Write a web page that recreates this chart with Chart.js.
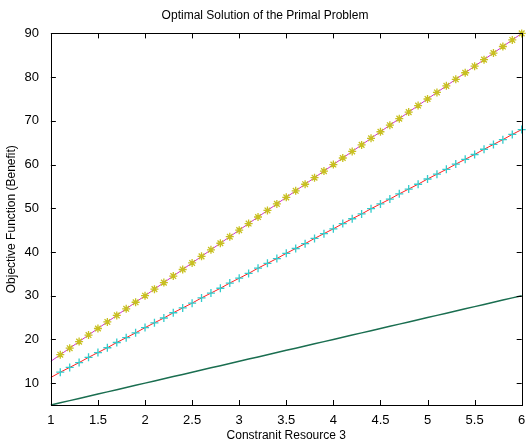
<!DOCTYPE html>
<html>
<head>
<meta charset="utf-8">
<script src="https://cdn.jsdelivr.net/npm/chart.js@4/dist/chart.umd.min.js"></script>
<style>
  html, body { margin: 0; padding: 0; background: #fff; }
  #wrap { width: 527px; height: 443px; }
</style>
</head>
<body>
<div id="wrap"><canvas id="myChart" width="527" height="443"></canvas></div>
<script>
// resource values on the x axis
var resource = [1, 1.1, 1.2, 1.3, 1.4, 1.5, 1.6, 1.7, 1.8, 1.9, 2, 2.1, 2.2, 2.3, 2.4, 2.5, 2.6, 2.7, 2.8, 2.9,
  3, 3.1, 3.2, 3.3, 3.4, 3.5, 3.6, 3.7, 3.8, 3.9, 4, 4.1, 4.2, 4.3, 4.4, 4.5, 4.6, 4.7, 4.8, 4.9,
  5, 5.1, 5.2, 5.3, 5.4, 5.5, 5.6, 5.7, 5.8, 5.9, 6];

var upperBenefit = [15, 16.5, 18, 19.5, 21, 22.5, 24, 25.5, 27, 28.5, 30, 31.5, 33, 34.5, 36, 37.5, 39, 40.5, 42, 43.5,
  45, 46.5, 48, 49.5, 51, 52.5, 54, 55.5, 57, 58.5, 60, 61.5, 63, 64.5, 66, 67.5, 69, 70.5, 72, 73.5,
  75, 76.5, 78, 79.5, 81, 82.5, 84, 85.5, 87, 88.5, 90];

var middleBenefit = [11.3, 12.5, 13.6, 14.7, 15.9, 17, 18.1, 19.3, 20.4, 21.5, 22.7, 23.8, 24.9, 26.1, 27.2, 28.3, 29.5, 30.6, 31.7, 32.9,
  34, 35.1, 36.3, 37.4, 38.5, 39.7, 40.8, 41.9, 43.1, 44.2, 45.3, 46.5, 47.6, 48.7, 49.9, 51, 52.1, 53.3, 54.4, 55.5,
  56.7, 57.8, 58.9, 60.1, 61.2, 62.3, 63.5, 64.6, 65.7, 66.9, 68];

var lowerBenefit = [5, 5.5, 6, 6.5, 7, 7.5, 8, 8.5, 9, 9.5, 10, 10.5, 11, 11.5, 12, 12.5, 13, 13.5, 14, 14.5,
  15, 15.5, 16, 16.5, 17, 17.5, 18, 18.5, 19, 19.5, 20, 20.5, 21, 21.5, 22, 22.5, 23, 23.5, 24, 24.5,
  25, 25.5, 26, 26.5, 27, 27.5, 28, 28.5, 29, 29.5, 30];

function pairs(ys) {
  return resource.map(function (x, i) { return { x: x, y: ys[i] }; });
}

// markers start from the second point, like the original plot
function markerSize(ctx) { return ctx.dataIndex === 0 ? 0 : 4; }

// box around the plot with inward ticks (matlab style)
var boxPlugin = {
  id: 'box',
  afterDraw: function (chart) {
    var ctx = chart.ctx;
    var a = chart.chartArea;
    var xs = chart.scales.x, ys = chart.scales.y;
    ctx.save();
    ctx.strokeStyle = '#000';
    ctx.lineWidth = 1;
    ctx.strokeRect(Math.round(a.left) + 0.5, Math.round(a.top) + 0.5,
      Math.round(a.right - a.left), Math.round(a.bottom - a.top));
    ctx.beginPath();
    xs.ticks.forEach(function (t) {
      var px = Math.round(xs.getPixelForValue(t.value)) + 0.5;
      ctx.moveTo(px, a.bottom); ctx.lineTo(px, a.bottom - 5);
      ctx.moveTo(px, a.top); ctx.lineTo(px, a.top + 5);
    });
    ys.ticks.forEach(function (t) {
      var py = Math.round(ys.getPixelForValue(t.value)) + 0.5;
      ctx.moveTo(a.left, py); ctx.lineTo(a.left + 5, py);
      ctx.moveTo(a.right, py); ctx.lineTo(a.right - 5, py);
    });
    ctx.stroke();
    ctx.restore();
  }
};

Chart.defaults.font.family = "'Liberation Sans', Arial, sans-serif";
Chart.defaults.font.size = 12;
Chart.defaults.color = '#000';

var ctx = document.getElementById('myChart').getContext('2d');
var myChart = new Chart(ctx, {
  type: 'line',
  data: {
    datasets: [{
      label: 'upper',
      data: pairs(upperBenefit),
      borderColor: '#cc33cc',
      borderWidth: 1,
      pointStyle: 'star',
      pointRadius: markerSize,
      pointBorderColor: '#c8c020',
      pointBackgroundColor: '#c8c020',
      pointBorderWidth: 1.3,
      clip: false
    }, {
      label: 'middle',
      data: pairs(middleBenefit),
      borderColor: '#ff2222',
      borderWidth: 1,
      pointStyle: 'cross',
      pointRadius: markerSize,
      pointBorderColor: '#33cccc',
      pointBorderWidth: 1.3,
      clip: false
    }, {
      label: 'lower',
      data: pairs(lowerBenefit),
      borderColor: '#1a6e50',
      borderWidth: 1.5,
      pointRadius: 0,
      clip: false
    }]
  },
  options: {
    responsive: false,
    animation: false,
    events: [],
    layout: { padding: { left: 4, right: 1, top: 0, bottom: 0 } },
    plugins: {
      legend: { display: false },
      tooltip: { enabled: false },
      title: {
        display: true,
        text: 'Optimal Solution of the Primal Problem',
        font: { size: 12, weight: 'normal' },
        padding: { top: 8, bottom: 11 }
      }
    },
    scales: {
      x: {
        type: 'linear',
        min: 1, max: 6,
        ticks: {
          stepSize: 0.5, maxRotation: 0, padding: 0, font: { size: 13 },
          callback: function (v) { return String(Math.round(v * 10) / 10); }
        },
        grid: { display: false },
        border: { display: false },
        title: { display: true, text: 'Constranit Resource 3', font: { size: 12 }, padding: { top: 0, bottom: 0 } }
      },
      y: {
        min: 5, max: 90,
        ticks: { stepSize: 10, padding: 4, font: { size: 13 } },
        afterBuildTicks: function (scale) {
          scale.ticks = scale.ticks.filter(function (t) { return t.value % 10 === 0; });
        },
        grid: { display: false },
        border: { display: false },
        title: { display: true, text: 'Objective Function (Benefit)', font: { size: 12 }, padding: { top: 0, bottom: 2 } }
      }
    }
  },
  plugins: [boxPlugin]
});
</script>
</body>
</html>
